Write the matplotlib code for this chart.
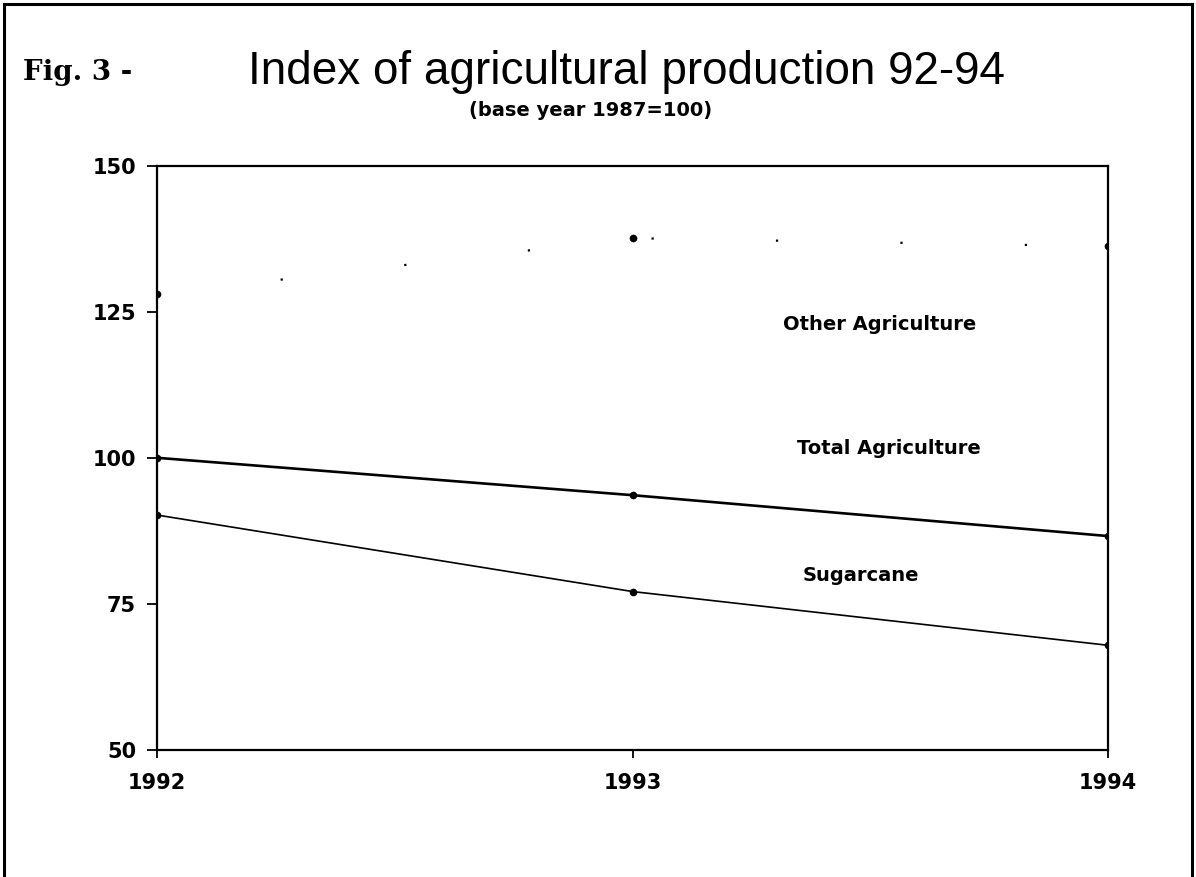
import matplotlib

matplotlib.use("Agg")

import matplotlib.pyplot as plt
from matplotlib.lines import Line2D

years = [1992, 1993, 1994]
other_agriculture = [128.0, 137.6, 136.2]
total_agriculture = [100.0, 93.6, 86.6]
sugarcane = [90.2, 77.1, 67.9]

y_ticks = [50, 75, 100, 125, 150]

series_labels = ["Other Agriculture", "Total Agriculture", "Sugarcane"]
label_x = [1993.52, 1993.54, 1993.48]
label_y = [122.8, 101.6, 79.8]

fig = plt.figure(figsize=(11.96, 8.77), dpi=100)
ax = fig.add_axes([0.1313, 0.145, 0.7951, 0.666])

bold = dict(family="DejaVu Sans", weight="bold")

ax.plot(years, total_agriculture, color="black", lw=1.9,
        marker="o", ms=4.5)
ax.plot(years, sugarcane, color="black", lw=1.2,
        marker="o", ms=4.5)
ax.plot(years, other_agriculture, color="black", lw=1.6,
        dashes=(1, 55), marker="o", ms=4.5)

for text, x, y in zip(series_labels, label_x, label_y):
    ax.text(x, y, text, ha="center", va="center", fontsize=14, **bold)

ax.set_xlim(1992, 1994)
ax.set_ylim(50, 150)
ax.set_xticks(years)
ax.set_yticks(y_ticks)
ax.set_xticklabels([str(y) for y in years], fontsize=15, **bold)
ax.set_yticklabels([str(v) for v in y_ticks], fontsize=15, **bold)
ax.tick_params(direction="out", length=7, width=1.3, pad=8)
ax.tick_params(axis="x", length=6, pad=11)
for spine in ax.spines.values():
    spine.set_linewidth(1.6)

fig.text(0.019, 0.917, "Fig. 3 -", fontsize=20, family="DejaVu Serif",
         weight="bold", ha="left", va="center")
fig.text(0.524, 0.918, "Index of agricultural production 92-94",
         fontsize=33, family=["Liberation Sans Narrow", "Liberation Sans"],
         ha="center", va="center")
fig.text(0.494, 0.874, "(base year 1987=100)", fontsize=14,
         ha="center", va="center", **bold)

# scanned page frame
for xs, ys in [([0.003, 0.997], [0.996, 0.996]),
               ([0.003, 0.003], [0.0, 0.996]),
               ([0.997, 0.997], [0.0, 0.996])]:
    fig.add_artist(Line2D(xs, ys, color="black", lw=2.2))

fig.savefig("out.png", dpi=100)
plt.close(fig)
